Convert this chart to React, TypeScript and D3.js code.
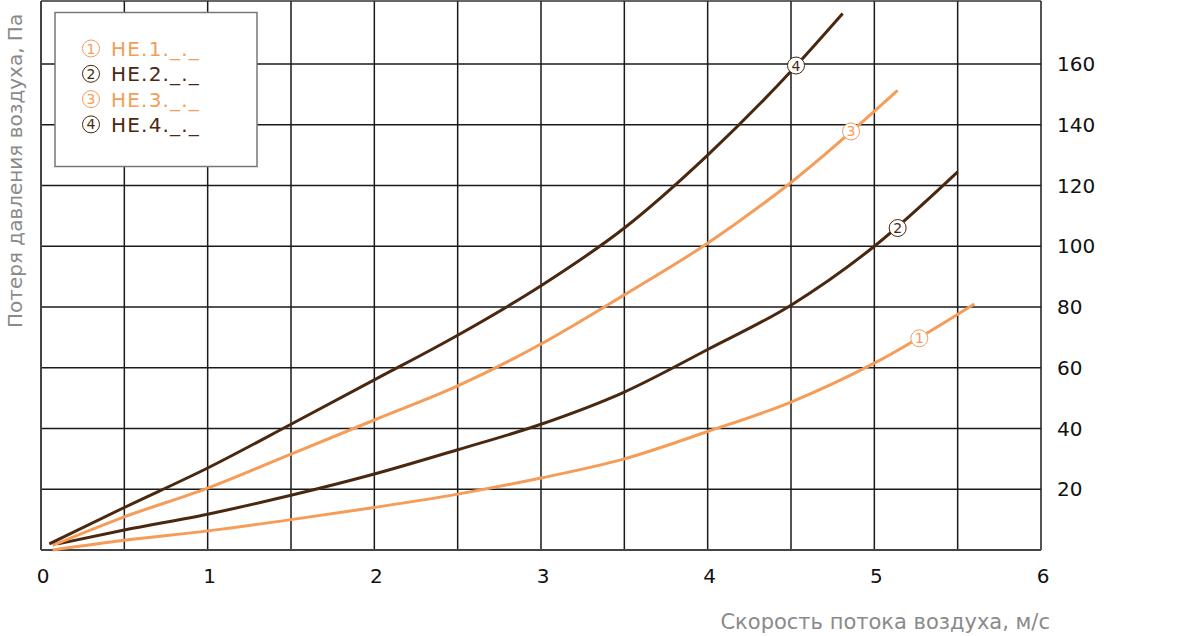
import React from "react";
import * as d3 from "d3";

const W = 1200;
const H = 636;

const xTicks = [0, 1, 2, 3, 4, 5, 6];
const yTicks = [20, 40, 60, 80, 100, 120, 140, 160];
const xGrid = [0.5, 1, 1.5, 2, 2.5, 3, 3.5, 4, 4.5, 5, 5.5, 6];

const seriesNames = ["HE.1._._", "HE.2._._", "HE.3._._", "HE.4._._"];
const seriesColors = ["#F59C58", "#4A2810", "#F59C58", "#4A2810"];

const s1x = [0.07, 0.5, 1, 1.5, 2, 2.5, 3, 3.5, 4, 4.5, 5, 5.6];
const s1y = [0, 3.2, 6.3, 10, 14, 18.4, 23.7, 30, 39, 48.7, 61.5, 81];
const s2x = [0.1, 0.5, 1, 1.5, 2, 2.5, 3, 3.5, 4, 4.5, 5, 5.5];
const s2y = [2, 6.6, 11.8, 18, 25, 33, 41.4, 52, 66, 80.6, 100, 124.5];
const s3x = [0.07, 0.5, 1, 1.5, 2, 2.5, 3, 3.5, 4, 4.5, 5.14];
const s3y = [1.5, 10.9, 20.4, 31.6, 42.8, 54, 67.8, 84, 101, 121, 151.3];
const s4x = [0.05, 0.5, 1, 1.5, 2, 2.5, 3, 3.5, 4, 4.5, 4.81];
const s4y = [2, 14, 27, 41.4, 56, 70.7, 87, 106, 130, 157.6, 176.6];

const labelX = [5.27, 5.14, 4.86, 4.53];
const labelY = [69.7, 106, 137.8, 159.5];

const seriesX = [s1x, s2x, s3x, s4x];
const seriesY = [s1y, s2y, s3y, s4y];

const xTitle = "Скорость потока воздуха, м/с";
const yTitle = "Потеря давления воздуха, Па";

export default function App() {
  const x = d3.scaleLinear().domain([0, 6]).range([41, 1041]);
  const y = d3.scaleLinear().domain([0, 160]).range([550, 64]);
  const yTop = 1;

  const line = d3
    .line<[number, number]>()
    .x((d) => x(d[0]))
    .y((d) => y(d[1]))
    .curve(d3.curveMonotoneX);

  const font = "'DejaVu Sans', Verdana, sans-serif";

  return (
    <svg
      width={W}
      height={H}
      style={{ position: "absolute", left: 0, top: 0, background: "#fff" }}
      fontFamily={font}
    >
      <rect x={0} y={0} width={W} height={H} fill="#fff" />
      {/* grid */}
      {xGrid.map((v) => (
        <line key={"gx" + v} x1={x(v)} x2={x(v)} y1={yTop} y2={y(0)} stroke="#1a1a1a" strokeWidth={1.5} />
      ))}
      {yTicks.map((v) => (
        <line key={"gy" + v} x1={x(0)} x2={x(6)} y1={y(v)} y2={y(v)} stroke="#1a1a1a" strokeWidth={1.5} />
      ))}
      <line x1={x(0)} x2={x(6)} y1={yTop} y2={yTop} stroke="#333" strokeWidth={1.5} />
      <line x1={x(0)} x2={x(0)} y1={yTop} y2={y(0)} stroke="#444" strokeWidth={2} />
      <line x1={x(0)} x2={x(6)} y1={y(0)} y2={y(0)} stroke="#444" strokeWidth={2} />

      {/* curves */}
      {seriesX.map((xs, i) => {
        const pts = xs.map((v, j) => [v, seriesY[i][j]] as [number, number]);
        return <path key={"s" + i} d={line(pts) || ""} fill="none" stroke={seriesColors[i]} strokeWidth={3} />;
      })}

      {/* curve labels */}
      {labelX.map((lx, i) => (
        <g key={"cl" + i} transform={`translate(${x(lx)},${y(labelY[i])})`}>
          <circle r={8.5} fill="#fff" stroke={seriesColors[i]} strokeWidth={1} />
          <text textAnchor="middle" dy={5} fontSize={14} fill={seriesColors[i]}>
            {i + 1}
          </text>
        </g>
      ))}

      {/* x tick labels */}
      {xTicks.map((v) => (
        <text key={"xt" + v} x={x(v) + 2} y={583} textAnchor="middle" fontSize={20} fill="#111">
          {v}
        </text>
      ))}
      {/* y tick labels */}
      {yTicks.map((v) => (
        <text key={"yt" + v} x={1057} y={y(v) + 7} textAnchor="start" fontSize={20} fill="#111">
          {v}
        </text>
      ))}

      {/* axis titles */}
      <text x={1050} y={629} textAnchor="end" fontSize={21} fill="#8a8a8a">
        {xTitle}
      </text>
      <text transform="translate(22,328) rotate(-90)" textAnchor="start" fontSize={20} fill="#8a8a8a">
        {yTitle}
      </text>

      {/* legend */}
      <rect x={55} y={12.5} width={202} height={154} fill="#fff" stroke="#777" strokeWidth={1.5} />
      {seriesNames.map((n, i) => (
        <g key={"lg" + i} transform={`translate(0,${48.5 + i * 25.3})`}>
          <circle cx={91} cy={0} r={8.5} fill="#fff" stroke={seriesColors[i]} strokeWidth={1} />
          <text x={91} y={5} textAnchor="middle" fontSize={14} fill={seriesColors[i]}>
            {i + 1}
          </text>
          <text x={111} y={7.5} fontSize={20} letterSpacing={1.2} fill={seriesColors[i]}>
            {n}
          </text>
        </g>
      ))}
    </svg>
  );
}
